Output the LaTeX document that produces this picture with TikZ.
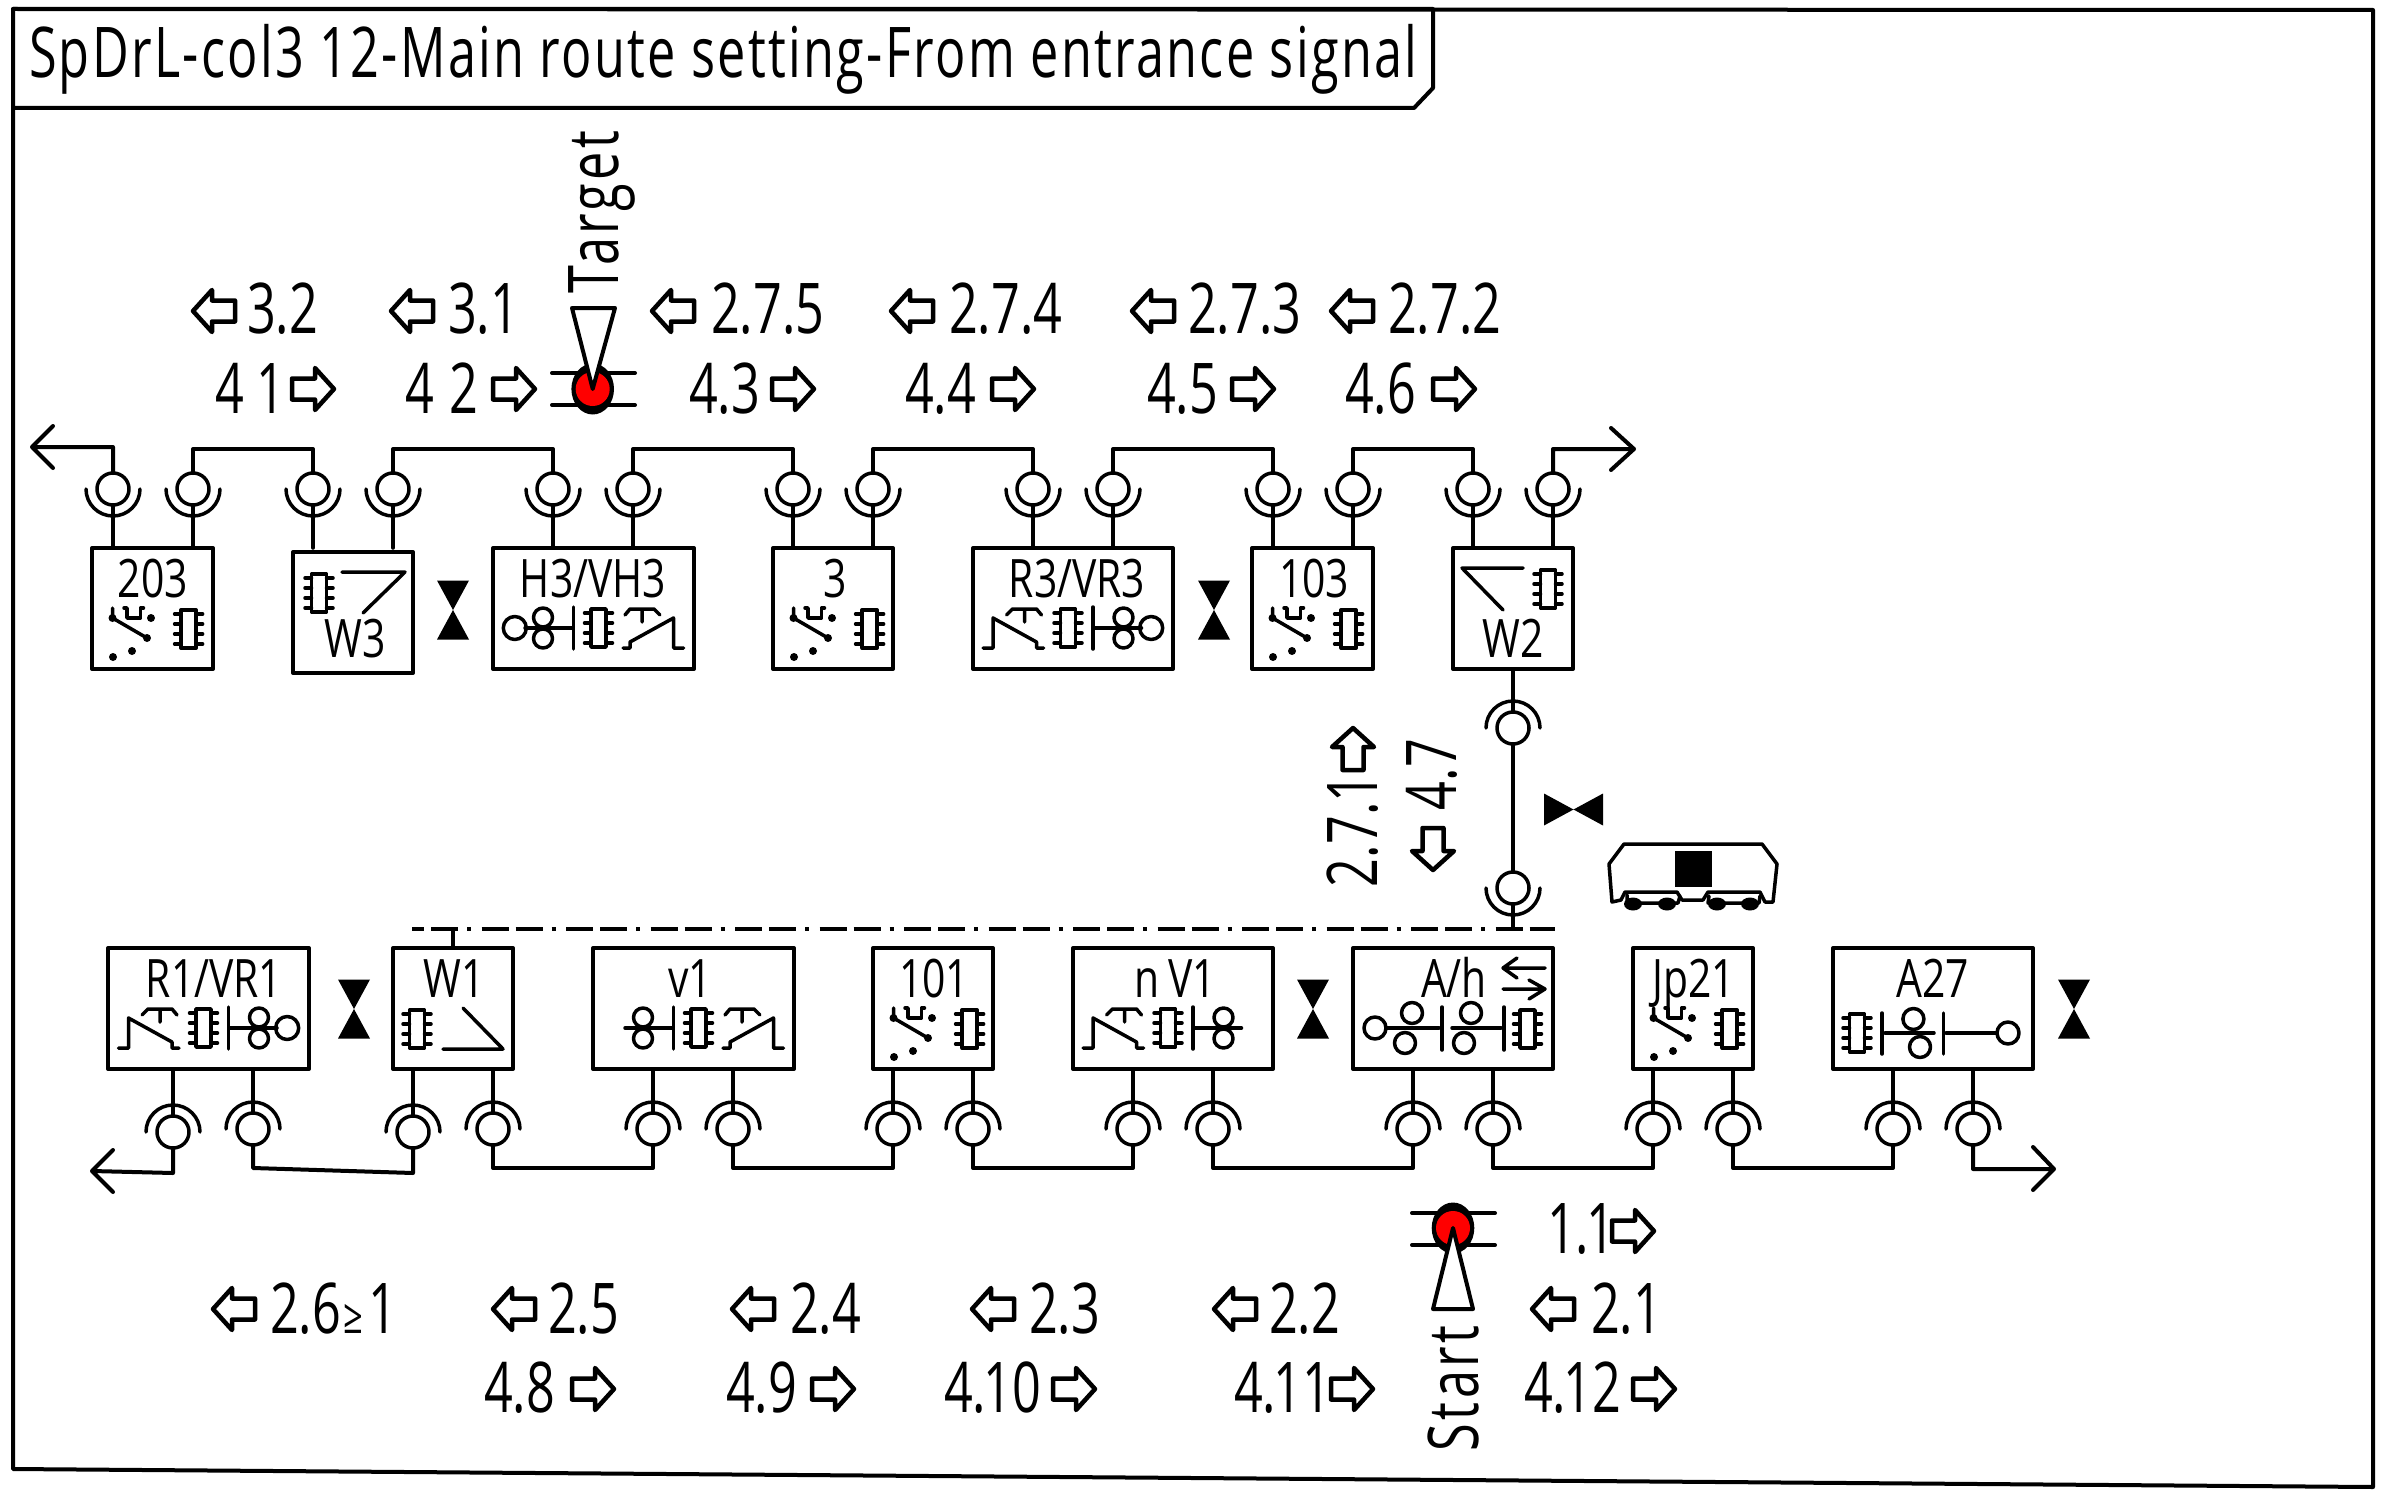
\documentclass[tikz,border=0pt]{standalone}
\usepackage{fontspec}
\setmainfont[FakeStretch=0.72]{Open Sans}
\newfontfamily\titlefont[FakeStretch=0.72,LetterSpace=3.3]{Open Sans}
\newfontfamily\markfont[FakeStretch=0.72,LetterSpace=4.8]{Open Sans}
\newfontfamily\boxfont[FakeStretch=0.77]{Open Sans}
\tikzset{
  chip/.pic={
    \draw[sym] (-7.5,-19) rectangle (7.5,19);
    \foreach \y in {-15,-5,5,15} \draw[sym] (-14,\y) -- (-7.5,\y) (7.5,\y) -- (14,\y);
  },
  switchicon/.pic={
    \draw[sym] (20.5,60) -- (20.5,70) -- (55,90);
    \draw[sym] (32,60) -- (35,60) -- (35,70) -- (48.5,70) -- (48.5,60) -- (51.5,60);
    \foreach \xa/\ya in {20.5/70,55/90,59/70,21/109,40/103} \fill (\xa,\ya) circle (4pt);
    \pic at (96.6,81) {chip};
  },
  mainsig/.pic={
    \draw[sym] (-50.5,-10.5) circle (9.5pt) (-50.5,10.5) circle (9.5pt);
    \draw[sym] (-68.5,0) -- (-21,0) (-20,-21) -- (-20,21);
    \pic at (5,0) {chip};
    \draw[sym] (31.5,-13) -- (36.5,-19) -- (60.5,-19) -- (66.5,-13) (48.5,-19) -- (48.5,-6);
    \draw[sym] (90,20) -- (80,20) -- (80,-10) -- (36.5,14) -- (36.5,20) -- (29.5,20);
  },
  blockarrow/.pic={
    \draw[line width=4.5pt] (-21,-10.5) -- (2,-10.5) -- (2,-21) -- (21,0) -- (2,21) -- (2,10.5) -- (-21,10.5) -- cycle;
  },
  bowtie/.pic={
    \fill (-16,-29.5) -- (16,-29.5) -- (-16,29.5) -- (16,29.5) -- cycle;
  }
}
\begin{document}
\begin{tikzpicture}[x=1pt,y=-1pt,line width=4pt,line join=round,line cap=round]
\tikzstyle{sym}=[line width=3.5pt]
\tikzstyle{box}=[draw,rectangle,line width=4pt,outer sep=0pt,minimum height=121pt,inner sep=0pt,anchor=north west]
\tikzstyle{port}=[draw,circle,line width=3.5pt,outer sep=0pt,minimum size=32pt,inner sep=0pt]
\tikzstyle{boxtext}=[font=\boxfont\fontsize{53}{53}\selectfont,inner sep=0pt,anchor=base]
\tikzstyle{marktext}=[font=\fontsize{70}{70}\selectfont,inner sep=0pt,anchor=base west]
\tikzstyle{wire}=[line width=4pt]
\tikzstyle{lamp}=[circle,fill=red,minimum size=34pt,inner sep=0pt]

\useasboundingbox (0,0) rectangle (2385,1501);

\draw (13,9) -- (2373,10) -- (2373,1487) -- (13,1469) -- cycle;
\draw (13,9) -- (1433,9) -- (1433,88) -- (1414,108) -- (13,108);
\node[marktext,font=\titlefont\fontsize{70}{70}\selectfont] (title) at (27,78) {SpDrL-col3 12-Main route setting-From entrance signal};

% upper track
\foreach \name/\xa/\ya/\wid in {b203/92/548/121,bW3/293/552/120,bH3/493/548/201,bThree/773/548/120,bR3/973/548/200,bOneThree/1252/548/121,bW2/1453/548/120}
  \node[box,minimum width=\wid pt] (\name) at (\xa,\ya) {};
\foreach \name/\xa in {p1/113,p2/193,p3/313,p4/393,p5/553,p6/633,p7/793,p8/873,p9/1033,p10/1113,p11/1273,p12/1353,p13/1473,p14/1553} {
  \node[port] (\name) at (\xa,489) {};
  \draw[sym] (\name.center) ++(-27pt,0) arc[start angle=180,end angle=360,radius=27pt];
  \draw[sym] (\name.south) -- (\xa,548);
}
\coordinate (endTL) at (32,447);
\coordinate (endTR) at (1634,449);
\draw[wire] (p1.north) |- (endTL) (53,426) -- (endTL) -- (53,468);
\foreach \a/\b in {p2/p3,p4/p5,p6/p7,p8/p9,p10/p11,p12/p13}
  \draw[wire] (\a.north) -- ++(0,-24) -| (\b.north);
\draw[wire] (p14.north) |- (endTR) (1611,428) -- (endTR) -- (1611,470);

% lower track
\foreach \name/\xa/\wid in {bR1/108/201,bW1/393/120,bv1/593/201,bOneOne/873/120,bnV1/1073/200,bAh/1353/200,bJp/1633/120,bA27/1833/200}
  \node[box,minimum width=\wid pt] (\name) at (\xa,948) {};
\foreach \name/\xa/\ya in {q1/173/1132,q2/253/1129,q3/413/1132,q4/493/1129,q5/653/1129,q6/733/1129,q7/893/1129,q8/973/1129,q9/1133/1129,q10/1213/1129,q11/1413/1129,q12/1493/1129,q13/1653/1129,q14/1733/1129,q15/1893/1129,q16/1973/1129} {
  \node[port] (\name) at (\xa,\ya) {};
  \draw[sym] (\name.center) ++(-27pt,0) arc[start angle=180,end angle=0,radius=27pt];
  \draw[sym] (\name.north) -- (\xa,1069);
}
\coordinate (endBL) at (92,1171);
\coordinate (endBR) at (2054,1169);
\draw[wire] (q1.south) -- (173,1173) -- (endBL) (113,1150) -- (endBL) -- (113,1192);
\draw[wire] (q2.south) -- (253,1168) -- (413,1173) -- (q3.south);
\foreach \a/\b in {q4/q5,q6/q7,q8/q9,q10/q11,q12/q13,q14/q15}
  \draw[wire] (\a.south) -- ++(0,23) -| (\b.south);
\draw[wire] (q16.south) |- (endBR) (2033,1147) -- (endBR) -- (2033,1190);

% link between tracks
\node[port] (u1) at (1513,728) {};
\node[port] (u2) at (1513,888) {};
\draw[sym] (u1.center) ++(-27pt,0) arc[start angle=180,end angle=0,radius=27pt];
\draw[sym] (u2.center) ++(-27pt,0) arc[start angle=180,end angle=360,radius=27pt];
\coordinate (busL) at (412,929);
\coordinate (busR) at (1555,929);
\draw[line width=4.5pt,line cap=butt,dash pattern=on 27pt off 7pt on 27pt off 9pt on 4pt off 10.5pt,dash phase=15pt] (busL) -- (busR);
\draw[sym] (bW2.south) -- (u1.north) (u1.south) -- (u2.north) (u2.south) -- (u2.south |- busL);
\draw[sym] (bW1.north) -- (bW1.north |- busL);

% box texts
\foreach \name/\xa/\ya/\txt in {t203/153/597/203,tHthree/593/597/{H3/VH3},tThree/835/597/3,tRthree/1077/597/{R3/VR3},tOneThree/1314/597/103,tWthree/355/657/W3,tWtwo/1513/657/W2,tRone/214/997/{R1/VR1},tWone/454/997/W1,tvone/690/997/v1,tOneOne/934/997/101,tnV/1175/997/n\,V1,tAh/1454/997/{A/h},tJp/1694/997/Jp21,tAtwo/1933/997/A27}
  \node[boxtext] (\name) at (\xa,\ya) {\txt};

% box icons
\foreach \xa/\ya in {92/548,773/548,1252/548,873/948,1633/948}
  \pic at (\xa,\ya) {switchicon};
\pic at (593.5,628) {mainsig};
\draw[sym] (514.8,628) circle (11.5pt);
\pic[xscale=-1] at (1073,628) {mainsig};
\draw[sym] (1151.2,628) circle (11.5pt);
\pic[xscale=-1] at (208.5,1028) {mainsig};
\draw[sym] (287.2,1028) circle (11.5pt);
\pic at (693.5,1028) {mainsig};
\pic[xscale=-1] at (1173,1028) {mainsig};
\pic at (319,593) {chip};
\draw[sym] (342,572) -- (405,572) -- (363,613);
\pic at (1548,589) {chip};
\draw[sym] (1523,568) -- (1462,568) -- (1503,610);
\pic at (417,1029) {chip};
\draw[sym] (463,1008) -- (503,1049) -- (443,1049);

% box A/h
\draw[sym] (1375,1028) circle (11pt);
\foreach \xa in {1412,1471} \draw[sym] (\xa,1013) circle (10.5pt) (\xa-7,1043) circle (10.5pt);
\draw[sym] (1387,1028) -- (1439,1028) (1442,1007) -- (1442,1050) (1452,1028) -- (1501,1028) (1504,1007) -- (1504,1050);
\pic at (1527.5,1029) {chip};
\draw[sym] (1545,968) -- (1503,968) (1517,958) -- (1503,968) -- (1517,978);
\draw[sym] (1503,989) -- (1545,989) (1529,980) -- (1545,989) -- (1529,999);

% box A27
\pic at (1857,1033) {chip};
\draw[sym] (1882,1013) -- (1882,1054) (1885,1033) -- (1934,1033) (1943.5,1013) -- (1943.5,1054) (1946,1033) -- (1996,1033);
\draw[sym] (1913.4,1019) circle (10.5pt) (1920,1047) circle (10.5pt);
\draw[sym] (2008,1033) circle (11pt);

% bowties
\foreach \xa/\ya in {453/610,1214/610,354/1009,1313/1009,2074/1009}
  \pic at (\xa,\ya) {bowtie};
\pic[rotate=90] at (1573.5,809.5) {bowtie};

% vehicle
\draw[sym] (1612,902) -- (1609,864) -- (1624,844) -- (1762,844) -- (1777,864) -- (1773,902) -- (1765,902) -- (1760,892) -- (1708,892) -- (1703,900) -- (1682,900) -- (1677,892) -- (1625,892) -- (1621,900) -- cycle;
\draw[sym] (1627,895) -- (1627,903) -- (1678,903) -- (1680,896) (1709,896) -- (1708,903) -- (1759,903) -- (1760,896);
\foreach \xa in {1633,1667,1717,1750} \fill (\xa,904) ellipse (9pt and 6.5pt);
\fill (1675,851) rectangle (1712,887);

% entry and exit marks
\draw (552,373) -- (635,373) (552,405) -- (635,405) (1412,1213) -- (1495,1213) (1412,1245) -- (1495,1245);
\fill (592.7,389) ellipse (21.3pt and 25.5pt) (1453,1228) ellipse (21.3pt and 25.5pt);
\node[lamp] (target) at (592.7,389) {};
\node[lamp] (start) at (1453,1228) {};
\draw[fill=white] (572,308) -- (615,308) -- (target.center) -- cycle;
\draw[fill=white] (1433,1309) -- (1473,1309) -- (start.center) -- cycle;
\node[marktext,font=\markfont\fontsize{70}{70}\selectfont,rotate=90] (tTarget) at (618,295) {Target};
\node[marktext,font=\markfont\fontsize{70}{70}\selectfont,rotate=90] (tStart) at (1478,1453) {Start};
\node[marktext,rotate=90] (tLinkA) at (1377,889) {2.7.1};
\node[marktext,rotate=90] (tLinkB) at (1456,812) {4.7};

% step numbers
\foreach \name/\xa/\ya/\txt in {sa/248/333/3.2,sb/449/333/3.1,sc/712/333/2.7.5,sd/950/333/2.7.4,se/1189/333/2.7.3,sf/1389/333/2.7.2,
  ta/216/413/{4 1},tb/406/413/{4 \kern3pt 2},tc/690/413/4.3,td/906/413/4.4,te/1148/413/4.5,tf/1346/413/4.6,
  ua/1548/1253/{1.\kern-3pt 1},
  va/1592/1333/2.1,vb/1270/1333/2.2,vc/1030/1333/2.3,vd/791/1333/2.4,ve/549/1333/2.5,vf/271/1333/{2.6\kern2pt{\fontsize{48}{48}\selectfont ≥}\kern6pt 1},
  wa/1525/1412/{4.\kern-3pt 12},wb/1235/1412/{4.\kern-3pt 11},wc/945/1412/{4.\kern-3pt 10},wd/727/1412/4.9,we/485/1412/4.8}
  \node[marktext,xshift=-3pt] (\name) at (\xa,\ya) {\txt};

% step arrows pointing left
\foreach \xa/\ya in {214/311,412/311,673/311,912/311,1153/311,1352/311,1553/1309,1235/1309,993/1309,753/1309,514/1309,234/1309}
  \pic[rotate=180] at (\xa,\ya) {blockarrow};
% step arrows pointing right
\foreach \xa/\ya in {313/389,514/389,793/389,1013/389,1253/389,1454/389,1633/1231,1654/1389,1352/1389,1074/1389,833/1389,593/1389}
  \pic at (\xa,\ya) {blockarrow};
\pic[rotate=90] at (1353,749) {blockarrow};
\pic[rotate=-90] at (1433,849) {blockarrow};
\end{tikzpicture}
\end{document}
